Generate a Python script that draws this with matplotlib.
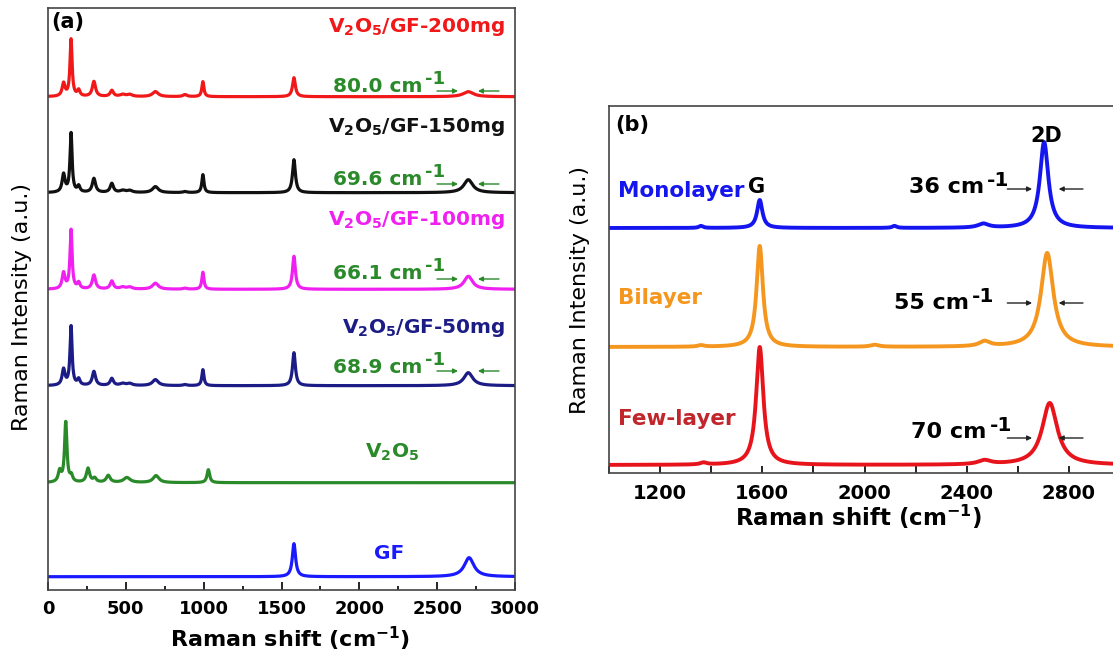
import numpy as np
import matplotlib
matplotlib.use('Agg')
import matplotlib.pyplot as plt
from matplotlib.ticker import MultipleLocator

# ---------------- panel (a): V2O5 / GF composites ----------------
# peak centres (cm-1) shared by the composite spectra
comp_pos = [100, 148, 197, 295, 410, 480, 525, 690, 880, 995, 1580, 2700]
comp_fwhm = [22, 16, 20, 25, 25, 40, 40, 45, 30, 16, 22]
h_200mg = [13, 57, 6, 15, 6, 2, 2, 5, 2, 15, 19, 5]
h_150mg = [18, 59, 6, 14, 9, 2, 2, 6, 1, 18, 33, 13]
h_100mg = [16, 59, 6, 14, 8, 2, 2, 6, 1, 17, 33, 13]
h_50mg = [16, 59, 6, 14, 7, 2, 2, 6, 1, 16, 33, 13]
fwhm_2d = [80.0, 69.6, 66.1, 68.9]  # 2D band widths quoted on the plot
comp_names = ['200', '150', '100', '50']

v2o5_pos = [75, 114, 150, 257, 300, 387, 507, 694, 1030]
v2o5_h = [11, 60, 6, 14, 4, 7, 5, 7, 13]
v2o5_fwhm = [22, 18, 20, 25, 25, 30, 50, 45, 20]

gf_pos = [1580, 2705]
gf_h = [33, 19]
gf_fwhm = [25, 75]

# ---------------- panel (b): graphene layers ----------------
mono_pos = [1360, 1590, 2117, 2465, 2703]
mono_h = [2, 28, 2, 4, 86]
mono_fwhm = [20, 25, 20, 50, 40]
bi_pos = [1360, 1590, 2040, 2470, 2715]
bi_h = [1.5, 101, 2, 5, 94]
bi_fwhm = [30, 30, 40, 50, 58]
few_pos = [1370, 1590, 2470, 2725]
few_h = [2, 118, 4, 62]
few_fwhm = [30, 34, 60, 72]
layer_fwhm = ['36', '55', '70']


def spectrum(x, pos, height, fwhm):
    y = np.zeros_like(x)
    for p, h, w in zip(pos, height, fwhm):
        y += h / (1 + ((x - p) / (w / 2.0)) ** 2)
    return y


fig = plt.figure(figsize=(11.13, 6.57), dpi=100)
W, H = 1113.0, 657.0
renderer = fig.canvas.get_renderer()


def cm_label(axis, x, y, value, color, size, rise):
    # "xx cm" followed by a large raised "-1", as in the original figure
    t = axis.text(x, y, value + ' cm', color=color, fontsize=size,
                  fontweight='bold', ha='left', va='baseline')
    w = t.get_window_extent(renderer).width * 72.0 / fig.dpi
    axis.annotate('-1', xy=(x, y), xytext=(w + 2, rise), textcoords='offset points',
                  color=color, fontsize=size * 0.9, fontweight='bold',
                  ha='left', va='baseline')


def arrows(axis, y, x1, x2, x3, x4, color):
    for tail, tip in ((x1, x2), (x4, x3)):
        axis.annotate('', xy=(tip, y), xytext=(tail, y),
                      arrowprops=dict(arrowstyle='-|>', color=color, lw=1,
                                      mutation_scale=7, shrinkA=0, shrinkB=0))


# ---- panel (a)
ax = fig.add_axes([48 / W, (H - 590) / H, 467 / W, 582 / H])
x = np.arange(0, 3001, 1.0)
comp_h = [h_200mg, h_150mg, h_100mg, h_50mg]
comp_colors = ['#f01818', '#111111', '#f020f0', '#1c1c86']
offsets = [493.3, 397.3, 300.7, 204.3]
label_y = [558, 458, 365, 257]
fw_y = [498, 405, 311, 217]
arrow_y = [499, 406, 311, 219]
green = '#2a8a2a'

for h, w2d, c, off, name, ly, fy, ay in zip(comp_h, fwhm_2d, comp_colors, offsets,
                                            comp_names, label_y, fw_y, arrow_y):
    y = spectrum(x, comp_pos, h, comp_fwhm + [w2d])
    ax.plot(x, y + off, color=c, lw=2.3)
    ax.text(2936, ly, r'V$_\mathbf{2}$O$_\mathbf{5}$/GF-' + name + 'mg',
            color=c, fontsize=14.5, fontweight='bold', ha='right', va='baseline')
    cm_label(ax, 1831, fy, '%.1f' % w2d, green, 14.5, 6)
    arrows(ax, ay, 2499, 2634, 2762, 2897, green)

ax.plot(x, spectrum(x, v2o5_pos, v2o5_h, v2o5_fwhm) + 107.3, color='#2a8a2a', lw=2.3)
ax.text(2210, 132, r'V$_\mathbf{2}$O$_\mathbf{5}$', color=green, fontsize=14.5,
        fontweight='bold', ha='center', va='baseline')
ax.plot(x, spectrum(x, gf_pos, gf_h, gf_fwhm) + 13.3, color='#1a1aff', lw=2.3)
ax.text(2190, 31, 'GF', color='#1a1aff', fontsize=14.5, fontweight='bold',
        ha='center', va='baseline')

ax.text(0.008, 0.993, '(a)', transform=ax.transAxes, fontsize=15,
        fontweight='bold', va='top', ha='left')
ax.set_xlim(0, 3000)
ax.set_ylim(0, 582)
ax.set_yticks([])
ax.xaxis.set_major_locator(MultipleLocator(500))
ax.xaxis.set_minor_locator(MultipleLocator(250))
ax.tick_params(axis='x', which='both', direction='in', top=False, labelsize=13, pad=7)
ax.tick_params(axis='x', which='major', length=6, width=1.2)
ax.tick_params(axis='x', which='minor', length=3, width=1.2)
for lab in ax.get_xticklabels():
    lab.set_fontweight('bold')
for s in ax.spines.values():
    s.set_color('#444444')
    s.set_linewidth(1.2)
ax.set_xlabel('Raman shift (cm$^{\\mathbf{-1}}$)', fontsize=16, fontweight='bold')
ax.xaxis.set_label_coords(0.518, -0.060)
ax.xaxis.label.set_va('top')
ax.set_ylabel('Raman Intensity (a.u.)', fontsize=16)
ax.yaxis.set_label_coords(-0.034, 0.487)

# ---- panel (b)
bx = fig.add_axes([609 / W, (H - 472.5) / H, 511 / W, 366.5 / H])
xb = np.arange(1000, 3001, 1.0)
layers = [('Monolayer', mono_pos, mono_h, mono_fwhm, '#1515f0', '#1515f0', 244.5),
          ('Bilayer', bi_pos, bi_h, bi_fwhm, '#f5961e', '#f5961e', 125.5),
          ('Few-layer', few_pos, few_h, few_fwhm, '#e8141c', '#c0262c', 7.5)]
name_y = [275.5, 168.5, 47.5]
fw_b_y = [279.5, 163.5, 34.5]
fw_b_x = [2176, 2117, 2183]
arr_b_y = [283.5, 169.5, 34.5]

for (name, p, h, w, c, tc, off), ny, fy, fx, ay, fw in zip(layers, name_y, fw_b_y, fw_b_x,
                                                           arr_b_y, layer_fwhm):
    bx.plot(xb, spectrum(xb, p, h, w) + off, color=c, lw=2.8)
    bx.text(1035, ny, name, color=tc, fontsize=15.5, fontweight='bold',
            ha='left', va='baseline')
    cm_label(bx, fx, fy, fw, 'black', 16, 5)
    arrows(bx, ay, 2559, 2656, 2760, 2855, '#222222')

bx.text(1578, 279.5, 'G', fontsize=15, fontweight='bold', ha='center', va='baseline')
bx.text(2711, 330.5, '2D', fontsize=15, fontweight='bold', ha='center', va='baseline')
bx.text(0.012, 0.975, '(b)', transform=bx.transAxes, fontsize=15,
        fontweight='bold', va='top', ha='left')
bx.set_xlim(1000, 3000)
bx.set_ylim(0, 366.5)
bx.set_yticks([])
bx.xaxis.set_major_locator(MultipleLocator(400))
bx.xaxis.set_minor_locator(MultipleLocator(200))
bx.tick_params(axis='x', which='both', direction='in', top=False, labelsize=14,
               length=5, width=1.2, pad=8)
for lab in bx.get_xticklabels():
    lab.set_fontweight('bold')
for s in bx.spines.values():
    s.set_color('#444444')
    s.set_linewidth(1.2)
bx.set_xlabel('Raman shift (cm$^{\\mathbf{-1}}$)', fontsize=16.5, fontweight='bold')
bx.xaxis.set_label_coords(0.489, -0.083)
bx.xaxis.label.set_va('top')
bx.set_ylabel('Raman Intensity (a.u.)', fontsize=16)
bx.yaxis.set_label_coords(-0.037, 0.498)

fig.savefig('out.png', dpi=100)
